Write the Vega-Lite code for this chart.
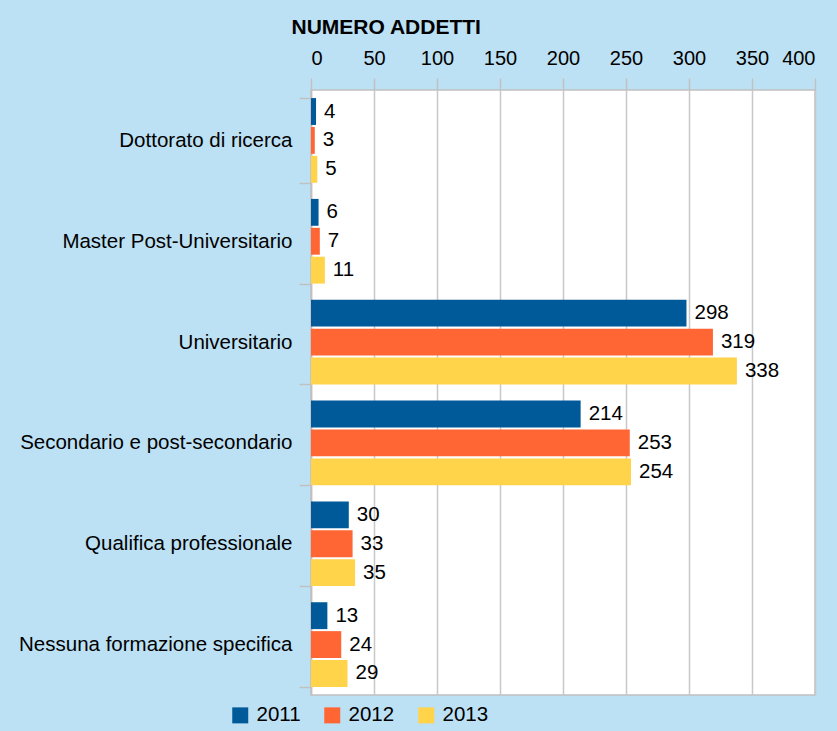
{
  "$schema": "https://vega.github.io/schema/vega-lite/v6.json",
  "width": 504,
  "height": 605,
  "autosize": {"type": "none"},
  "padding": {"left": 311, "top": 90, "right": 22, "bottom": 36},
  "background": "#BDE1F4",
  "config": {
    "font": "Liberation Sans, Arial, sans-serif",
    "view": {"stroke": "#c0c0c0", "strokeWidth": 1.5, "fill": "#ffffff"},
    "axis": {
      "labelFont": "Liberation Sans, Arial, sans-serif",
      "titleFont": "Liberation Sans, Arial, sans-serif",
      "labelColor": "#000000",
      "titleColor": "#000000",
      "gridColor": "#c8c8c8",
      "gridWidth": 1.5,
      "tickColor": "#c0c0c0",
      "tickWidth": 1.5,
      "domainColor": "#c0c0c0",
      "domainWidth": 1.5
    }
  },
  "data": {
    "values": [
      {"categoria": "Dottorato di ricerca", "anno": "2011", "valore": 4},
      {"categoria": "Dottorato di ricerca", "anno": "2012", "valore": 3},
      {"categoria": "Dottorato di ricerca", "anno": "2013", "valore": 5},
      {"categoria": "Master Post-Universitario", "anno": "2011", "valore": 6},
      {"categoria": "Master Post-Universitario", "anno": "2012", "valore": 7},
      {"categoria": "Master Post-Universitario", "anno": "2013", "valore": 11},
      {"categoria": "Universitario", "anno": "2011", "valore": 298},
      {"categoria": "Universitario", "anno": "2012", "valore": 319},
      {"categoria": "Universitario", "anno": "2013", "valore": 338},
      {"categoria": "Secondario e post-secondario", "anno": "2011", "valore": 214},
      {"categoria": "Secondario e post-secondario", "anno": "2012", "valore": 253},
      {"categoria": "Secondario e post-secondario", "anno": "2013", "valore": 254},
      {"categoria": "Qualifica professionale", "anno": "2011", "valore": 30},
      {"categoria": "Qualifica professionale", "anno": "2012", "valore": 33},
      {"categoria": "Qualifica professionale", "anno": "2013", "valore": 35},
      {"categoria": "Nessuna formazione specifica", "anno": "2011", "valore": 13},
      {"categoria": "Nessuna formazione specifica", "anno": "2012", "valore": 24},
      {"categoria": "Nessuna formazione specifica", "anno": "2013", "valore": 29}
    ]
  },
  "encoding": {
    "y": {
      "field": "categoria",
      "type": "nominal",
      "sort": null,
      "scale": {"paddingInner": 0.16, "paddingOuter": 0.08},
      "axis": {
        "title": null,
        "tickBand": "extent",
        "tickSize": 12,
        "labelPadding": 7,
        "labelFontSize": 20.5,
        "labelLimit": 400,
        "grid": false
      }
    },
    "yOffset": {
      "field": "anno",
      "type": "nominal",
      "scale": {"paddingInner": 0.07}
    },
    "x": {
      "field": "valore",
      "type": "quantitative",
      "scale": {"domain": [0, 400], "nice": false},
      "axis": {
        "orient": "top",
        "values": [0, 50, 100, 150, 200, 250, 300, 350, 400],
        "title": "NUMERO ADDETTI",
        "titleFontSize": 21,
        "titleFontWeight": "bold",
        "titleAnchor": "start",
        "titleAlign": "left",
        "titleBaseline": "alphabetic",
        "titleX": -20,
        "titleY": -57,
        "labelFontSize": 20,
        "tickSize": 12,
        "labelPadding": 10,
        "domain": false,
        "grid": true
      }
    }
  },
  "layer": [
    {
      "mark": {"type": "bar"},
      "encoding": {
        "color": {
          "field": "anno",
          "type": "nominal",
          "scale": {"domain": ["2011", "2012", "2013"], "range": ["#005A9A", "#FF6633", "#FFD34A"]},
          "legend": {
            "title": null,
            "orient": "none",
            "direction": "horizontal",
            "legendX": -81,
            "legendY": 615,
            "symbolType": "square",
            "symbolSize": 256,
            "symbolStrokeWidth": 0,
            "labelFontSize": 20.5,
            "labelFont": "Liberation Sans, Arial, sans-serif",
            "labelColor": "#000000",
            "labelOffset": 6,
            "columnPadding": 21
          }
        }
      }
    },
    {
      "mark": {"type": "text", "align": "left", "baseline": "middle", "dx": 8, "fontSize": 20.5, "color": "#000000"},
      "encoding": {
        "text": {"field": "valore", "type": "quantitative"}
      }
    }
  ]
}
